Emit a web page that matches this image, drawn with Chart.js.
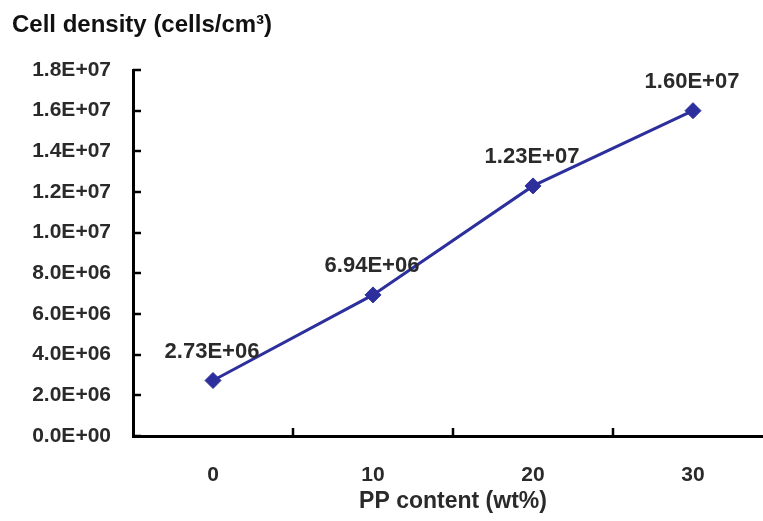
<!DOCTYPE html>
<html>
<head>
<meta charset="utf-8">
<script src="https://cdn.jsdelivr.net/npm/chart.js@4.4.1/dist/chart.umd.min.js"></script>
<style>
  html, body { margin: 0; padding: 0; background: #fff; overflow: hidden; }
  #wrap { width: 773px; height: 521px; overflow: hidden; position: relative; }
  canvas { display: block; }
</style>
</head>
<body>
<div id="wrap"><canvas id="densityChart" width="773" height="521"></canvas></div>
<script>
// PP content categories and measured cell density
const ppContent = ['0', '10', '20', '30'];
const cellDensity = [2.73e6, 6.94e6, 1.23e7, 1.60e7];
const yMin = 0;
const yMax = 1.8e7;
const yStep = 2e6;
const yTitle = 'Cell density (cells/cm³)';
const xTitle = 'PP content (wt%)';

const FONT = 'Arial, "Liberation Sans", Helvetica, sans-serif';
const TEXT_COLOR = '#2a2a2a';
const LINE_COLOR = '#2c2f9c';

// format like Excel scientific: 1.8E+07
function sci(v, digits) {
    if (v === 0) return (0).toFixed(digits) + 'E+00';
    let e = Math.floor(Math.log10(Math.abs(v)));
    let m = v / Math.pow(10, e);
    if (Math.abs(parseFloat(m.toFixed(digits))) >= 10) { m /= 10; e += 1; }
    const sign = e < 0 ? '-' : '+';
    return m.toFixed(digits) + 'E' + sign + String(Math.abs(e)).padStart(2, '0');
}

// inward tick marks, top-left title and point value labels
const decorPlugin = {
    id: 'decor',
    afterDraw(chart) {
        const ctx = chart.ctx;
        const area = chart.chartArea;
        const x = chart.scales.x;
        const y = chart.scales.y;
        ctx.save();
        ctx.strokeStyle = '#000';
        ctx.lineWidth = 2.5;
        // y ticks pointing right
        y.ticks.forEach(t => {
            const py = Math.round(y.getPixelForValue(t.value));
            ctx.beginPath();
            ctx.moveTo(area.left, py);
            ctx.lineTo(area.left + 8, py);
            ctx.stroke();
        });
        // x ticks between categories, pointing up
        for (let i = 0; i < ppContent.length; i++) {
            const px = Math.round((x.getPixelForValue(i) + x.getPixelForValue(i + 1)) / 2);
            ctx.beginPath();
            ctx.moveTo(px, area.bottom);
            ctx.lineTo(px, area.bottom - 8);
            ctx.stroke();
        }
        // axis title at top left
        ctx.fillStyle = '#111';
        ctx.font = 'bold 24px ' + FONT;
        ctx.textAlign = 'left';
        ctx.textBaseline = 'alphabetic';
        ctx.fillText(yTitle, 12, 32);
        // value labels
        ctx.font = 'bold 22px ' + FONT;
        ctx.textAlign = 'center';
        ctx.textBaseline = 'middle';
        ctx.fillStyle = TEXT_COLOR;
        const meta = chart.getDatasetMeta(0);
        meta.data.forEach((pt, i) => {
            ctx.fillText(sci(cellDensity[i], 2), pt.x - 1, pt.y - 29);
        });
        ctx.restore();
    }
};

const ctx = document.getElementById('densityChart').getContext('2d');
const chart = new Chart(ctx, {
    type: 'line',
    data: {
        labels: ppContent,
        datasets: [{
            label: 'Cell density',
            data: cellDensity,
            borderColor: LINE_COLOR,
            backgroundColor: LINE_COLOR,
            borderWidth: 3,
            pointStyle: 'rectRot',
            pointRadius: 8,
            pointBorderWidth: 1,
            tension: 0
        }]
    },
    options: {
        responsive: false,
        animation: false,
        layout: { autoPadding: false, padding: { top: 70, right: 0, bottom: 0, left: 0 } },
        plugins: {
            legend: { display: false },
            tooltip: { enabled: false },
            title: { display: false }
        },
        scales: {
            x: {
                type: 'category',
                offset: true,
                grid: { display: false, drawTicks: false },
                border: { display: true, color: '#000', width: 3 },
                ticks: { color: TEXT_COLOR, font: { family: FONT, size: 21, weight: 'bold' }, padding: 27 },
                title: { display: true, text: xTitle, color: TEXT_COLOR, font: { family: FONT, size: 23, weight: 'bold' }, padding: { top: 2, bottom: 6 } },
                afterFit(scale) { scale.height = 85; }
            },
            y: {
                min: yMin,
                max: yMax,
                grid: { display: false, drawTicks: false },
                border: { display: true, color: '#000', width: 3 },
                ticks: {
                    stepSize: yStep,
                    color: TEXT_COLOR,
                    font: { family: FONT, size: 21, weight: 'bold' },
                    padding: 22,
                    callback: v => sci(v, 1)
                },
                afterFit(scale) { scale.width = 133; }
            }
        }
    },
    plugins: [decorPlugin]
});
</script>
</body>
</html>
